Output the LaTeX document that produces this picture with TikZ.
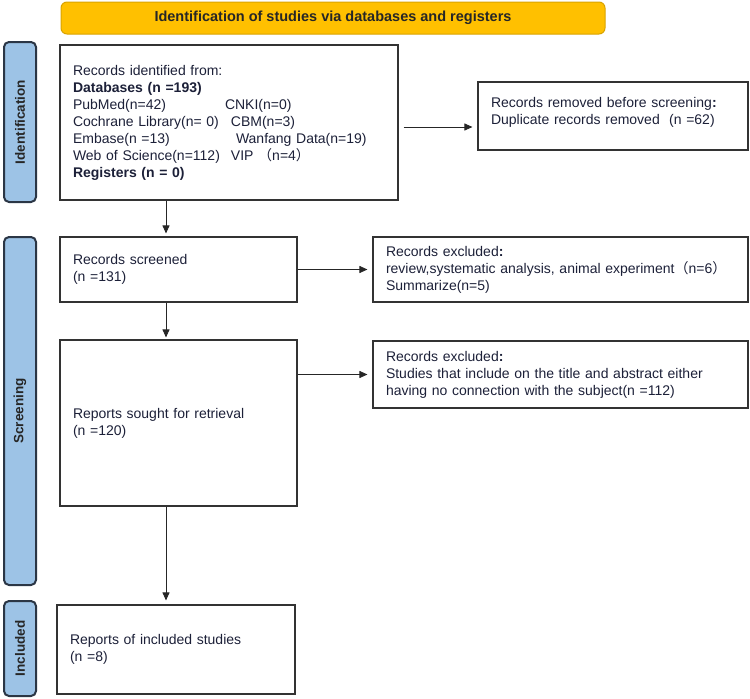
\documentclass[tikz,border=0pt]{standalone}
\usepackage{fontspec}
\setmainfont{Liberation Sans}
\newfontfamily\cjk{Noto Sans CJK SC}
\usepackage{tikz}
\usetikzlibrary{arrows,arrows.meta,positioning,calc}

\definecolor{titlefill}{HTML}{FFC000}
\definecolor{titleline}{HTML}{D9A300}
\definecolor{phasefill}{HTML}{9DC3E6}
\definecolor{phaseline}{HTML}{2B3645}
\definecolor{boxtext}{HTML}{1C2038}

\begin{document}
\begin{tikzpicture}[x=1pt,y=-1pt]
    \tikzstyle{title}=[draw=titleline,fill=titlefill,line width=1pt,rounded corners=6pt,rectangle,font=\fontsize{14.5}{16}\selectfont\bfseries,text=black!85]
    \tikzstyle{phase}=[draw=phaseline,fill=phasefill,line width=2pt,rounded corners=5pt,rectangle,minimum width=32,inner sep=0pt,font=\fontsize{13.5}{15}\selectfont\bfseries,text=black!85]
    \tikzstyle{box}=[draw=black!80,line width=1.1pt,rectangle,inner sep=0pt,align=left,text=boxtext,font=\fontsize{14}{17}\selectfont]
    \tikzstyle{arrow}=[-{Triangle[length=8pt,width=7pt]},line width=0.9pt,draw=black!85]

    \useasboundingbox (0,0) rectangle (750,699);

    \node[title,minimum width=544,minimum height=32] (title) at (333,18) {Identification of studies via databases and registers};

    \node[phase,minimum height=160] (ident) at (20,122) {\rotatebox{90}{Identification}};
    \node[phase,minimum height=348] (screen) at (20,411) {\rotatebox{90}{Screening}};
    \node[phase,minimum height=95] (incl) at (20,648.5) {\rotatebox{90}{Included}};

    \node[box,minimum width=338,minimum height=155,text width=312] (records) at (229,122.5) {Records identified from:\\
      \textbf{Databases (n =193)}\\
      \makebox[152pt][l]{PubMed(n=42)}CNKI(n=0)\\
      \makebox[158pt][l]{Cochrane Library(n= 0)}CBM(n=3)\\
      \makebox[163pt][l]{Embase(n =13)}Wanfang Data(n=19)\\
      \makebox[158pt][l]{Web of Science(n=112)}VIP {\cjk （}n=4{\cjk ）}\\
      \textbf{Registers (n = 0)}};
    \node[box,minimum width=270,minimum height=68,text width=244] (removed) at (613,116) {Records removed before screening\textbf{:}\\Duplicate records removed\ \ (n =62)\\[-7pt]\mbox{}};

    \node[box,minimum width=237,minimum height=65,text width=211] (screened) at (178.5,269.5) {Records screened\\(n =131)};
    \node[box,minimum width=375,minimum height=65,text width=349] (excl1) at (560.5,269.5) {Records excluded\textbf{:}\\review,systematic analysis, animal experiment{\cjk （}n=6{\cjk ）}\\Summarize(n=5)};
    \node[box,minimum width=237,minimum height=166,text width=211] (sought) at (178.5,423) {Reports sought for retrieval\\(n =120)};
    \node[box,minimum width=375,minimum height=67,text width=349] (excl2) at (560.5,374.5) {Records excluded\textbf{:}\\Studies that include on the title and abstract either\\having no connection with the subject(n =112)};
    \node[box,minimum width=238,minimum height=89,text width=212] (included) at (176,649.5) {Reports of included studies\\(n =8)};

    % arrows down the left column
    \coordinate (spine) at (166,0);
    \draw[arrow,shorten >=3pt] (records.south -| spine) -- (screened.north -| spine);
    \draw[arrow,shorten >=2pt] (screened.south -| spine) -- (sought.north -| spine);
    \draw[arrow,shorten >=4pt] (sought.south -| spine) -- (included.north -| spine);

    % arrows to the exclusion boxes
    \draw[arrow,shorten <=5pt,shorten >=5pt] ([yshift=-4.5pt]records.east) -- ([yshift=-4.5pt]records.east -| removed.west);
    \draw[arrow,shorten >=5pt] (screened) -- (excl1);
    \draw[arrow,shorten >=5pt] (sought.east |- excl2.west) -- (excl2.west);
\end{tikzpicture}
\end{document}
